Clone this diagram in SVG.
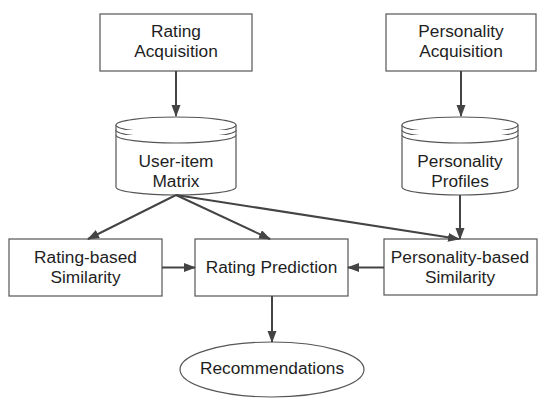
<svg xmlns="http://www.w3.org/2000/svg" width="546" height="403" viewBox="0 0 546 403">
  <defs>
    <style>
      .box { fill: #ffffff; stroke: #555555; stroke-width: 1.2; }
      .cyl { fill: #ffffff; stroke: #555555; stroke-width: 1.2; }
      .txt { font-family: "Liberation Sans", Arial, sans-serif; font-size: 17.3px; fill: #1e1e1e; text-anchor: middle; }
      .edge { fill: none; stroke: #444444; stroke-width: 2; marker-end: url(#arrow); }
    </style>
    <marker id="arrow" markerUnits="userSpaceOnUse" markerWidth="12" markerHeight="10" refX="11" refY="4.5" orient="auto">
      <path d="M0,0 L12,4.5 L0,9 Z" fill="#444444"/>
    </marker>
  </defs>
  <rect width="546" height="403" fill="#ffffff"/>

  <g id="rating-acquisition">
    <rect class="box" x="100" y="14" width="152" height="57"/>
    <text class="txt" x="176" y="37">Rating</text>
    <text class="txt" x="176" y="57">Acquisition</text>
  </g>

  <g id="personality-acquisition">
    <rect class="box" x="386" y="14" width="150" height="57"/>
    <text class="txt" x="461" y="37">Personality</text>
    <text class="txt" x="461" y="57">Acquisition</text>
  </g>

  <g id="user-item-matrix">
    <path class="cyl" d="M116,125 L116,187 A60,8 0 0 0 236,187 L236,125"/>
    <ellipse class="cyl" cx="176" cy="125" rx="60" ry="8"/>
    <path class="cyl" fill="none" d="M116,130 A60,8 0 0 0 236,130"/>
    <path class="cyl" fill="none" d="M116,135 A60,8 0 0 0 236,135"/>
    <text class="txt" x="176" y="167">User-item</text>
    <text class="txt" x="176" y="187">Matrix</text>
  </g>

  <g id="personality-profiles">
    <path class="cyl" d="M402,125 L402,187 A58,8 0 0 0 518,187 L518,125"/>
    <ellipse class="cyl" cx="460" cy="125" rx="58" ry="8"/>
    <path class="cyl" fill="none" d="M402,130 A58,8 0 0 0 518,130"/>
    <path class="cyl" fill="none" d="M402,135 A58,8 0 0 0 518,135"/>
    <text class="txt" x="460" y="167">Personality</text>
    <text class="txt" x="460" y="187">Profiles</text>
  </g>

  <g id="rating-based-similarity">
    <rect class="box" x="9" y="239" width="153" height="57"/>
    <text class="txt" x="85.5" y="263">Rating-based</text>
    <text class="txt" x="85.5" y="283">Similarity</text>
  </g>

  <g id="rating-prediction">
    <rect class="box" x="195" y="239" width="153" height="57"/>
    <text class="txt" x="271.5" y="273">Rating Prediction</text>
  </g>

  <g id="personality-based-similarity">
    <rect class="box" x="384" y="239" width="153" height="56"/>
    <text class="txt" x="460" y="263">Personality-based</text>
    <text class="txt" x="460" y="283">Similarity</text>
  </g>

  <g id="recommendations">
    <ellipse class="box" cx="272" cy="369.5" rx="92" ry="27.5"/>
    <text class="txt" x="272" y="374">Recommendations</text>
  </g>

  <g id="connectors">
    <line class="edge" x1="176" y1="71" x2="176" y2="116"/>
    <line class="edge" x1="461" y1="71" x2="461" y2="116"/>
    <line class="edge" x1="176" y1="195" x2="88" y2="239"/>
    <line class="edge" x1="176" y1="195" x2="270" y2="239"/>
    <line class="edge" x1="176" y1="195" x2="459" y2="239"/>
    <line class="edge" x1="460" y1="195" x2="460" y2="239"/>
    <line class="edge" x1="162" y1="267.5" x2="195" y2="267.5"/>
    <line class="edge" x1="384" y1="267.5" x2="348" y2="267.5"/>
    <line class="edge" x1="272" y1="296" x2="272" y2="342"/>
  </g>
</svg>
